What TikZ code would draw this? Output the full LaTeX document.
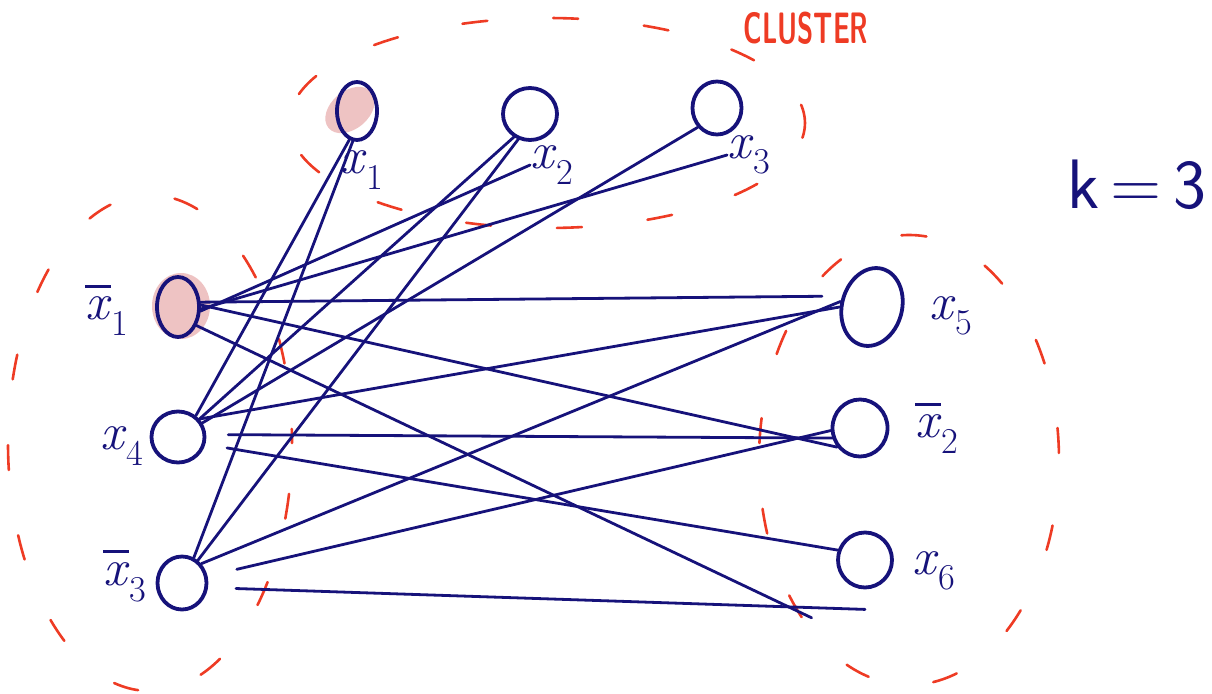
\documentclass[tikz,border=0pt]{standalone}
\usepackage{fontspec}
\usepackage{graphicx}
\usetikzlibrary{shapes.geometric}

\definecolor{ink}{HTML}{16127A}
\definecolor{marker}{HTML}{EE3B24}
\definecolor{blush}{HTML}{EEC3C3}

% literal names: italic x with a subscript, optionally negated with a bar
\newcommand\lit[1]{\textit{x}\textsubscript{#1}}
\newcommand\nlit[1]{\rlap{\raisebox{0.62em}{\rule{0.5em}{0.06em}}}\textit{x}\textsubscript{#1}}

\tikzset{
  lit/.style={ellipse, draw=ink, line width=3.8pt, inner sep=0pt},
  lab/.style={text=ink, inner sep=0pt, font=\fontsize{52}{56}\selectfont},
  edge/.style={draw=ink, line width=2.8pt, line cap=round},
  cluster/.style={draw=marker, line width=2.6pt, line cap=round,
                  dash pattern=on 25pt off 66pt},
  tag/.style={text=marker, inner sep=0pt, font=\sffamily\bfseries\fontsize{44}{46}\selectfont},
}

\begin{document}
\begin{tikzpicture}[x=1pt,y=-1pt]
\useasboundingbox (0,0) rectangle (1212,693);

% dashed cluster outlines
\draw[cluster, dash phase=10pt] (547,123) ellipse [x radius=258, y radius=105];
\draw[cluster, dash phase=40pt] (150,443) ellipse [x radius=142, y radius=248];
\draw[cluster, dash phase=25pt] (909,460) ellipse [x radius=150, y radius=225];

% highlighted literals
\fill[blush, rotate around={40:(350,110)}] (350,110) ellipse [x radius=28, y radius=19];
\fill[blush] (181,306) ellipse [x radius=29, y radius=33];

% first clause
\node[lit, minimum width=40pt, minimum height=58pt] (x1) at (357,111) {};
\node[lit, minimum width=54pt, minimum height=52pt] (x2) at (530,114) {};
\node[lit, minimum width=49pt, minimum height=53pt] (x3) at (717,108) {};
% second clause
\node[lit, minimum width=42pt, minimum height=60pt] (nb1) at (178,307) {};
\node[lit, minimum width=53pt, minimum height=51pt] (x4) at (178,437) {};
\node[lit, minimum width=49pt, minimum height=53pt] (nb3) at (182,583) {};
% third clause
\node[lit, minimum width=60pt, minimum height=79pt, rotate=-15] (x5) at (872,307) {};
\node[lit, minimum width=55pt, minimum height=57pt] (nxb2) at (860,428) {};
\node[lit, minimum width=54pt, minimum height=55pt] (x6) at (865,560) {};

% literal names
\node[lab] (l1) at (362,170) {\lit{1}};
\node[lab] (l2) at (552,165) {\lit{2}};
\node[lab] (l3) at (749,155) {\lit{3}};
\node[lab] (lb1) at (107,310) {\nlit{1}};
\node[lab] (l4) at (122,446) {\lit{4}};
\node[lab] (lb3) at (125,576) {\nlit{3}};
\node[lab] (l5) at (951,316) {\lit{5}};
\node[lab] (lb2) at (937,428) {\nlit{2}};
\node[lab] (l6) at (934,571) {\lit{6}};

% annotations
\node[tag] (ttl) at (806,28) {\scalebox{0.6}[1]{CLUSTER}};
\node[text=ink, inner sep=0pt, font=\sffamily\fontsize{70}{74}\selectfont] (kk) at (1137,185) {k\,=\,3};

% edges between first and second clause
\draw[edge] (x1.255) -- (x4.50);
\draw[edge] (x1.262) -- (nb3.65);
\draw[edge] (x2.235) -- (x4.40);
\draw[edge] (x2.245) -- (nb3.55);
\draw[edge] (x3.225) -- (x4.30);
\draw[edge] (nb1.-10) -- (l2.west);
\draw[edge] (nb1.-5) -- (l3.west);

% edges between second and third clause
\draw[edge, shorten >=20pt] (nb1.12) -- (x5.175);
\draw[edge] (nb1.5) -- (nxb2.220);
\draw[edge] (nb1.-45) -- ([shift={(-33pt,-37pt)}]x6.south west);
\draw[edge] (x4.40) -- (x5.195);
\draw[edge, shorten <=22pt] (x4.5) -- (nxb2.200);
\draw[edge, shorten <=22pt] (x4.-15) -- (x6.160);
\draw[edge] (nb3.45) -- (x5.185);
\draw[edge, shorten <=30pt] (nb3.15) -- (nxb2.185);
\draw[edge, shorten <=28pt] (nb3.-10) -- ([yshift=-20pt]x6.south);
\end{tikzpicture}
\end{document}
